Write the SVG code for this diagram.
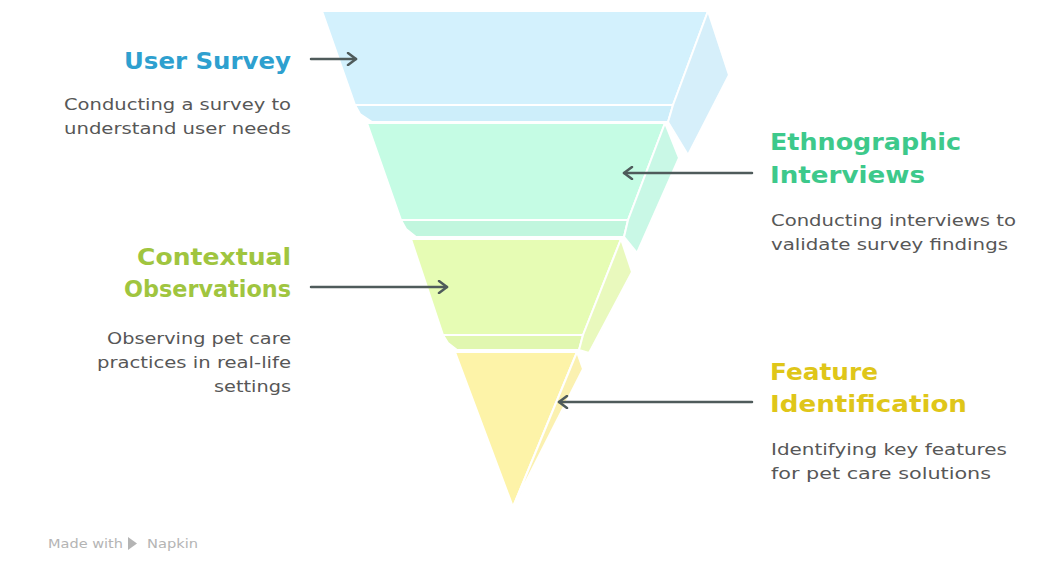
<svg xmlns="http://www.w3.org/2000/svg" width="1051" height="577" viewBox="0 0 1051 577">
  <style>
    .face { stroke: #ffffff; stroke-width: 2; stroke-linejoin: round; }
    .title { font-family: "DejaVu Sans", "Liberation Sans", sans-serif; font-weight: 700; font-size: 23px; }
    .desc { font-family: "DejaVu Sans", "Liberation Sans", sans-serif; font-size: 16px; fill: #575757; }
    .conn { stroke: #4f5b5b; stroke-width: 2.5; fill: none; stroke-linecap: round; }
    .wm { font-family: "DejaVu Sans", "Liberation Sans", sans-serif; font-size: 11.5px; fill: #b4b4b4; }
  </style>
  <defs>
    <marker id="arrow" viewBox="0 0 12 14" refX="10" refY="7" markerWidth="12" markerHeight="14" markerUnits="userSpaceOnUse" orient="auto">
      <path d="M2,1 L10,7 L2,13" fill="none" stroke="#4f5b5b" stroke-width="2.5" stroke-linecap="round" stroke-linejoin="round"/>
    </marker>
  </defs>
  <rect width="1051" height="577" fill="#ffffff"/>

  <g id="layer-user-survey">
    <polygon class="face" fill="#d3f1fd" points="322,11 708,11 673,105 355,105"/>
    <polygon class="face" fill="#cdeefa" points="355,105 673,105 668,122 372,122 360,114"/>
    <polygon class="face" fill="#d6effa" points="708,11 729,75 688,155 668,122 673,105"/>
    <text class="title" fill="#2ea0cf" x="291" y="69" text-anchor="end" textLength="167" lengthAdjust="spacingAndGlyphs">User Survey</text>
    <text class="desc" x="291" y="110" text-anchor="end" textLength="227" lengthAdjust="spacingAndGlyphs">Conducting a survey to</text>
    <text class="desc" x="291" y="134" text-anchor="end" textLength="227" lengthAdjust="spacingAndGlyphs">understand user needs</text>
  </g>

  <g id="layer-ethnographic">
    <polygon class="face" fill="#c5fce4" points="367,123 665,123 628,220 401,220"/>
    <polygon class="face" fill="#c1f6de" points="401,220 628,220 624,237 416,237 406,229"/>
    <polygon class="face" fill="#c9f8e6" points="665,123 679,158 637,253 624,237 628,220"/>
    <text class="title" fill="#3dc98b" x="770" y="150" textLength="191" lengthAdjust="spacingAndGlyphs">Ethnographic</text>
    <text class="title" fill="#3dc98b" x="770" y="183" textLength="155" lengthAdjust="spacingAndGlyphs">Interviews</text>
    <text class="desc" x="771" y="226" textLength="245" lengthAdjust="spacingAndGlyphs">Conducting interviews to</text>
    <text class="desc" x="771" y="250" textLength="237" lengthAdjust="spacingAndGlyphs">validate survey findings</text>
  </g>

  <g id="layer-contextual">
    <polygon class="face" fill="#e6fcb4" points="411,239 621,239 583,335 443,335"/>
    <polygon class="face" fill="#e1f7b0" points="443,335 583,335 579,350 457,350 448,343"/>
    <polygon class="face" fill="#e9f9bd" points="621,239 632,272 589,353 579,350 583,335"/>
    <text class="title" fill="#a0c53f" x="291" y="265" text-anchor="end" textLength="154" lengthAdjust="spacingAndGlyphs">Contextual</text>
    <text class="title" fill="#a0c53f" x="291" y="297" text-anchor="end" textLength="167" lengthAdjust="spacingAndGlyphs">Observations</text>
    <text class="desc" x="291" y="344" text-anchor="end" textLength="184" lengthAdjust="spacingAndGlyphs">Observing pet care</text>
    <text class="desc" x="291" y="368" text-anchor="end" textLength="194" lengthAdjust="spacingAndGlyphs">practices in real-life</text>
    <text class="desc" x="291" y="392" text-anchor="end" textLength="77" lengthAdjust="spacingAndGlyphs">settings</text>
  </g>

  <g id="layer-feature">
    <polygon class="face" fill="#fdf3a8" points="455,352 577,352 513,507"/>
    <polygon class="face" fill="#fbf1b0" points="577,352 583,369 513,507"/>
    <text class="title" fill="#dfc619" x="770" y="380" textLength="108" lengthAdjust="spacingAndGlyphs">Feature</text>
    <text class="title" fill="#dfc619" x="770" y="412" textLength="197" lengthAdjust="spacingAndGlyphs">Identification</text>
    <text class="desc" x="771" y="455" textLength="236" lengthAdjust="spacingAndGlyphs">Identifying key features</text>
    <text class="desc" x="771" y="479" textLength="220" lengthAdjust="spacingAndGlyphs">for pet care solutions</text>
  </g>

  <g id="connectors">
    <line class="conn" x1="311" y1="59" x2="356" y2="59" marker-end="url(#arrow)"/>
    <line class="conn" x1="752" y1="173" x2="624" y2="173" marker-end="url(#arrow)"/>
    <line class="conn" x1="311" y1="287" x2="447" y2="287" marker-end="url(#arrow)"/>
    <line class="conn" x1="752" y1="402" x2="559" y2="402" marker-end="url(#arrow)"/>
  </g>

  <g id="watermark">
    <text class="wm" x="48" y="548" textLength="75" lengthAdjust="spacingAndGlyphs">Made with</text>
    <polygon fill="#b4b4b4" points="128,537 137,543.5 128,550"/>
    <text class="wm" x="147" y="548" textLength="51" lengthAdjust="spacingAndGlyphs">Napkin</text>
  </g>
</svg>
